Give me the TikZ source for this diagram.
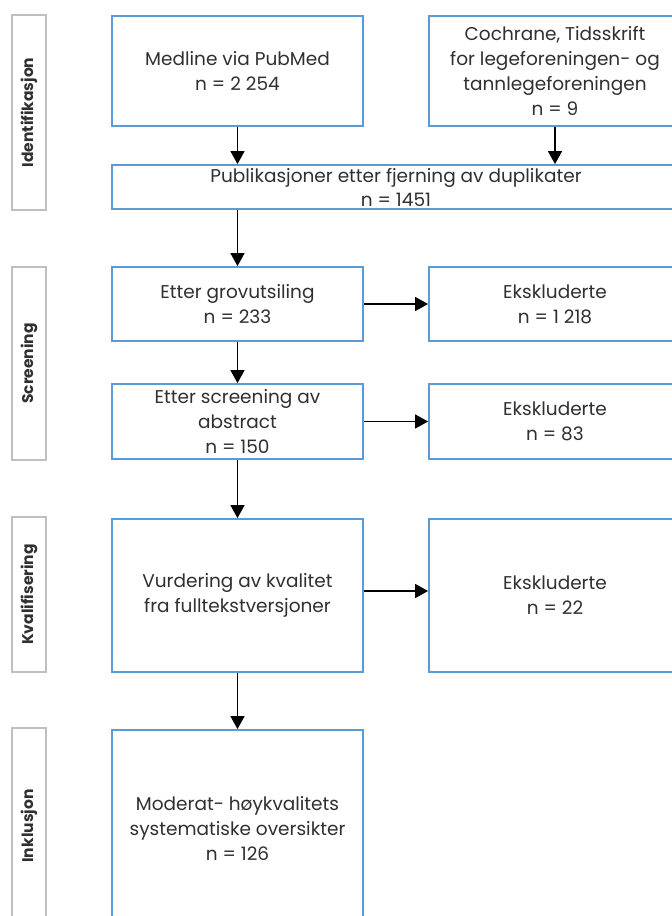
\documentclass[tikz,border=0pt]{standalone}
\usepackage{fontspec}
\setmainfont{Poppins}
\usetikzlibrary{arrows.meta}
\definecolor{boxblue}{HTML}{5B9BD5}
\definecolor{labgrey}{HTML}{BFBFBF}
\definecolor{txt}{HTML}{303030}
\begin{document}
\begin{tikzpicture}[x=1pt,y=-1pt,
  flowbox/.style={draw=boxblue, line width=1.8pt, fill=white, inner sep=2pt, align=center,
    text=txt, font=\fontsize{18.5}{25}\selectfont, minimum width=251pt},
  phase/.style={draw=labgrey, line width=1.8pt, rotate=90, inner sep=0pt, minimum height=34pt,
    text=txt, font=\bfseries\fontsize{15.5}{18}\selectfont},
  flow/.style={line width=1.4pt, draw=black, -{Triangle[length=13pt,width=14pt]}}
]
\clip (0,0) rectangle (672,916);
\fill[white] (0,0) rectangle (672,916);

% phase labels
\node[phase, minimum width=195pt] (pid) at (29,112.5) {Identifikasjon};
\node[phase, minimum width=193pt] (psc) at (29,363.5) {Screening};
\node[phase, minimum width=155pt] (pkv) at (29,594.5) {Kvalifisering};
\node[phase, minimum width=196pt] (pin) at (29,826) {Inklusjon};

% boxes
\node[flowbox, minimum height=110pt] (med) at (237.5,71) {Medline via PubMed\\n = 2 254};
\node[flowbox, minimum height=110pt, minimum width=252pt] (coc) at (555,71)
  {Cochrane, Tidsskrift\\for legeforeningen- og\\tannlegeforeningen\\n = 9};
\node[flowbox, minimum height=44pt, minimum width=568pt, font=\fontsize{18.5}{24}\selectfont] (pub) at (396,187)
  {Publikasjoner etter fjerning av duplikater\\n = 1451};
\node[flowbox, minimum height=74pt] (grov) at (237.5,304) {Etter grovutsiling\\n = 233};
\node[flowbox, minimum height=74pt, minimum width=252pt] (eks1) at (555,304) {Ekskluderte\\n = 1 218};
\node[flowbox, minimum height=75pt] (scr) at (237.5,421.5) {Etter screening av\\abstract\\n = 150};
\node[flowbox, minimum height=75pt, minimum width=252pt] (eks2) at (555,421.5) {Ekskluderte\\n = 83};
\node[flowbox, minimum height=153pt] (vur) at (237.5,595.5) {Vurdering av kvalitet\\fra fulltekstversjoner};
\node[flowbox, minimum height=153pt, minimum width=252pt] (eks3) at (555,595.5) {Ekskluderte\\n = 22};
\node[flowbox, minimum height=196pt] (mod) at (237.5,828)
  {Moderat- høykvalitets\\systematiske oversikter\\n = 126};

% connectors
\draw[flow] (med.south) -- (med.south |- pub.north);
\draw[flow] (coc.south) -- (coc.south |- pub.north);
\draw[flow] (grov.north |- pub.south) -- (grov.north);
\draw[flow] (grov.south) -- (scr.north);
\draw[flow] (scr.south) -- (vur.north);
\draw[flow] (vur.south) -- (mod.north);
\draw[flow] (grov.east) -- (eks1.west);
\draw[flow] (scr.east) -- (eks2.west);
\draw[flow] ([yshift=4.5pt]vur.east) -- ([yshift=4.5pt]eks3.west);
\end{tikzpicture}
\end{document}
